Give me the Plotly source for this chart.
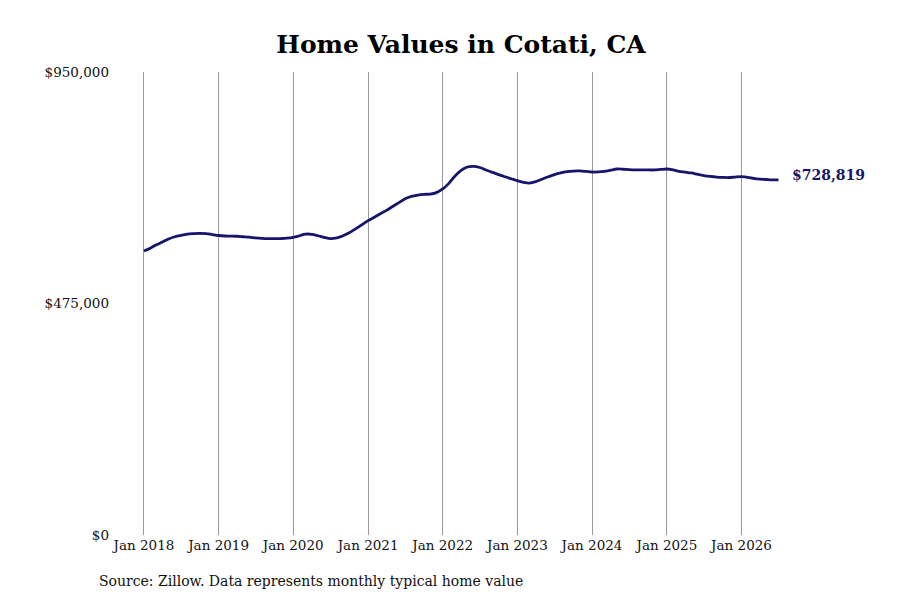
import pandas as pd
import plotly.graph_objects as go

# Monthly typical home values, Jan 2018 - Jul 2026
start_month = "2018-01-01"
values = [
    582700, 588500, 595000, 601000, 607500, 612000, 615000, 617500, 618500, 619000,
    618500, 616500, 614500, 613500, 613300, 613000, 612000, 611000, 609500, 608500,
    608000, 608000, 608300, 609000, 610800, 614000, 617300, 617000, 614000, 610500,
    608000, 609500, 614000, 620000, 628000, 636500, 645000, 652000, 659000, 666000,
    674000, 682000, 690000, 695000, 697500, 699000, 699500, 702500, 710000, 722000,
    736000, 748000, 755000, 756500, 754000, 749000, 744000, 739500, 735000, 731000,
    727000, 723500, 722000, 725000, 730000, 735000, 739500, 743000, 745500, 746800,
    747000, 746000, 744800, 745000, 746000, 748500, 751000, 750500, 749500, 749000,
    749000, 749000, 749000, 750000, 751000, 749000, 746000, 744500, 742800, 740000,
    737600, 735800, 734500, 733800, 733500, 734500, 735200, 734000, 731500, 730000,
    729400, 728800, 728819,
]
dates = pd.date_range(start_month, periods=len(values), freq="MS")
tick_dates = pd.date_range("2018-01-01", "2026-01-01", freq="YS")
tick_labels = [f"Jan {d.year}" for d in tick_dates]
y_ticks = [0, 475000, 950000]
y_tick_labels = ["$0", "$475,000", "$950,000"]
end_label = "$728,819"

title_text = "Home Values in Cotati, CA"
source_text = "Source: Zillow. Data represents monthly typical home value"

FONT = "DejaVu Serif"
LINE = "#15156b"

W, H = 900, 600
ML, MR, MT, MB = 102, 108, 64, 73

fig = go.Figure()
fig.add_trace(go.Scatter(
    x=dates, y=values, mode="lines",
    line=dict(color=LINE, width=2.8, shape="spline", smoothing=0.8),
    hoverinfo="x+y", showlegend=False,
))

fig.add_annotation(
    x=dates[-1], y=values[-1], xref="x", yref="y",
    text=f"<b>{end_label}</b>", showarrow=False,
    xanchor="left", xshift=11, yshift=5, yanchor="middle",
    font=dict(family=FONT, size=14, color=LINE),
)

pw = W - ML - MR
ph = H - MT - MB
fig.add_annotation(
    x=(89 - ML) / pw, y=(H - MB - 573) / ph, xref="paper", yref="paper",
    text=source_text, showarrow=False, xanchor="left", yanchor="middle",
    font=dict(family=FONT, size=14, color="#111111"),
)

fig.update_layout(
    width=W, height=H,
    paper_bgcolor="white", plot_bgcolor="white",
    margin=dict(l=ML, r=MR, t=MT, b=MB),
    title=dict(text=f"<b>{title_text}</b>", x=453 / W, xanchor="center",
               y=1 - 36 / H, yanchor="middle",
               font=dict(family=FONT, size=25, color="#000000")),
    font=dict(family=FONT, size=13.5, color="#111111"),
    xaxis=dict(
        range=["2017-07-19", "2026-10-14"],
        tickvals=tick_dates, ticktext=tick_labels,
        showgrid=True, gridcolor="#999999", gridwidth=1,
        zeroline=False, showline=False, ticks="",
        tickfont=dict(family=FONT, size=13.5, color="#111111"),
    ),
    yaxis=dict(
        range=[0, 950000],
        tickvals=y_ticks, ticktext=y_tick_labels,
        showgrid=False, zeroline=False, showline=False, ticks="",
        tickfont=dict(family=FONT, size=13.5, color="#111111"),
    ),
)

fig.write_html("out.html")
